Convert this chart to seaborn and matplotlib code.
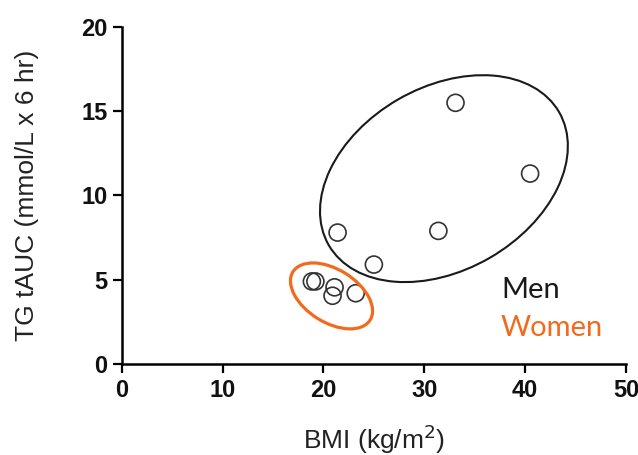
import numpy as np
import pandas as pd
import matplotlib
matplotlib.use("Agg")
import matplotlib.pyplot as plt
import matplotlib.transforms as mtransforms
from matplotlib.patches import Ellipse
import seaborn as sns

# ---- data ----
men_bmi = [33.1, 40.5, 21.4, 31.4, 25.0]
men_tg = [15.5, 11.3, 7.8, 7.9, 5.9]
women_bmi = [18.85, 19.2, 21.1, 20.9, 23.2]
women_tg = [4.9, 4.9, 4.55, 4.05, 4.2]
x_ticks = [0, 10, 20, 30, 40, 50]
y_ticks = [0, 5, 10, 15, 20]
group_names = ["Men", "Women"]
group_colors = ["#1a1a1a", "#F26B1D"]

df = pd.DataFrame({
    "BMI": men_bmi + women_bmi,
    "TG": men_tg + women_tg,
    "Group": ["Men"] * len(men_bmi) + ["Women"] * len(women_bmi),
})

sns.set_style("ticks")
plt.rcParams["font.family"] = ["Liberation Sans", "DejaVu Sans"]
plt.rcParams["text.color"] = "#222222"
plt.rcParams["axes.labelcolor"] = "#222222"
plt.rcParams["xtick.color"] = "black"
plt.rcParams["ytick.color"] = "black"

fig = plt.figure(figsize=(6.38, 4.55), dpi=100)
ax = fig.add_axes([0.191, 0.2, 0.79, 0.7407])

sns.scatterplot(data=df, x="BMI", y="TG", ax=ax, marker="o", s=150,
                facecolor="none", edgecolor="#333333", linewidth=1.2,
                legend=False)

ax.set_xlim(0, 50)
ax.set_ylim(0, 20)
ax.set_xticks(x_ticks)
ax.set_yticks(y_ticks)
ax.set_xticklabels([str(t) for t in x_ticks], fontsize=17, fontweight="bold",
                   color="#111111")
ax.set_yticklabels([str(t) for t in y_ticks], fontsize=17, fontweight="bold",
                   color="#111111")
ax.tick_params(axis="both", length=6.5, width=1.6, color="black", pad=4)
for s in ["left", "bottom"]:
    ax.spines[s].set_linewidth(1.8)
    ax.spines[s].set_color("black")
sns.despine(ax=ax)

ax.set_xlabel("BMI (kg/m$^2$)", fontsize=19, labelpad=15)
ax.set_ylabel("TG tAUC (mmol/L x 6 hr)", fontsize=19, labelpad=30)

# group outlines (center in data units; size in inches; angle in degrees)
ell_centers = [(31.95, 11.0), (20.8, 4.04)]
ell_sizes = [(2.66, 1.83), (0.91, 0.53)]
ell_angles = [30, -32]
ell_widths = [1.5, 2.3]
for (cx, cy), (w, h), ang, col, lw in zip(ell_centers, ell_sizes, ell_angles,
                                          group_colors, ell_widths):
    tr = fig.dpi_scale_trans + mtransforms.ScaledTranslation(cx, cy, ax.transData)
    e = Ellipse((0, 0), w, h, angle=ang, transform=tr, fill=False,
                edgecolor=col, linewidth=lw, clip_on=False)
    ax.add_patch(e)

# group labels
label_pos = [(37.6, 4.4), (37.6, 2.15)]
for name, col, (lx, ly) in zip(group_names, group_colors, label_pos):
    ax.text(lx, ly, name, color=col, fontsize=21, family=["Lato", "DejaVu Sans"],
            va="center", ha="left")

fig.savefig("out.png", dpi=100)
